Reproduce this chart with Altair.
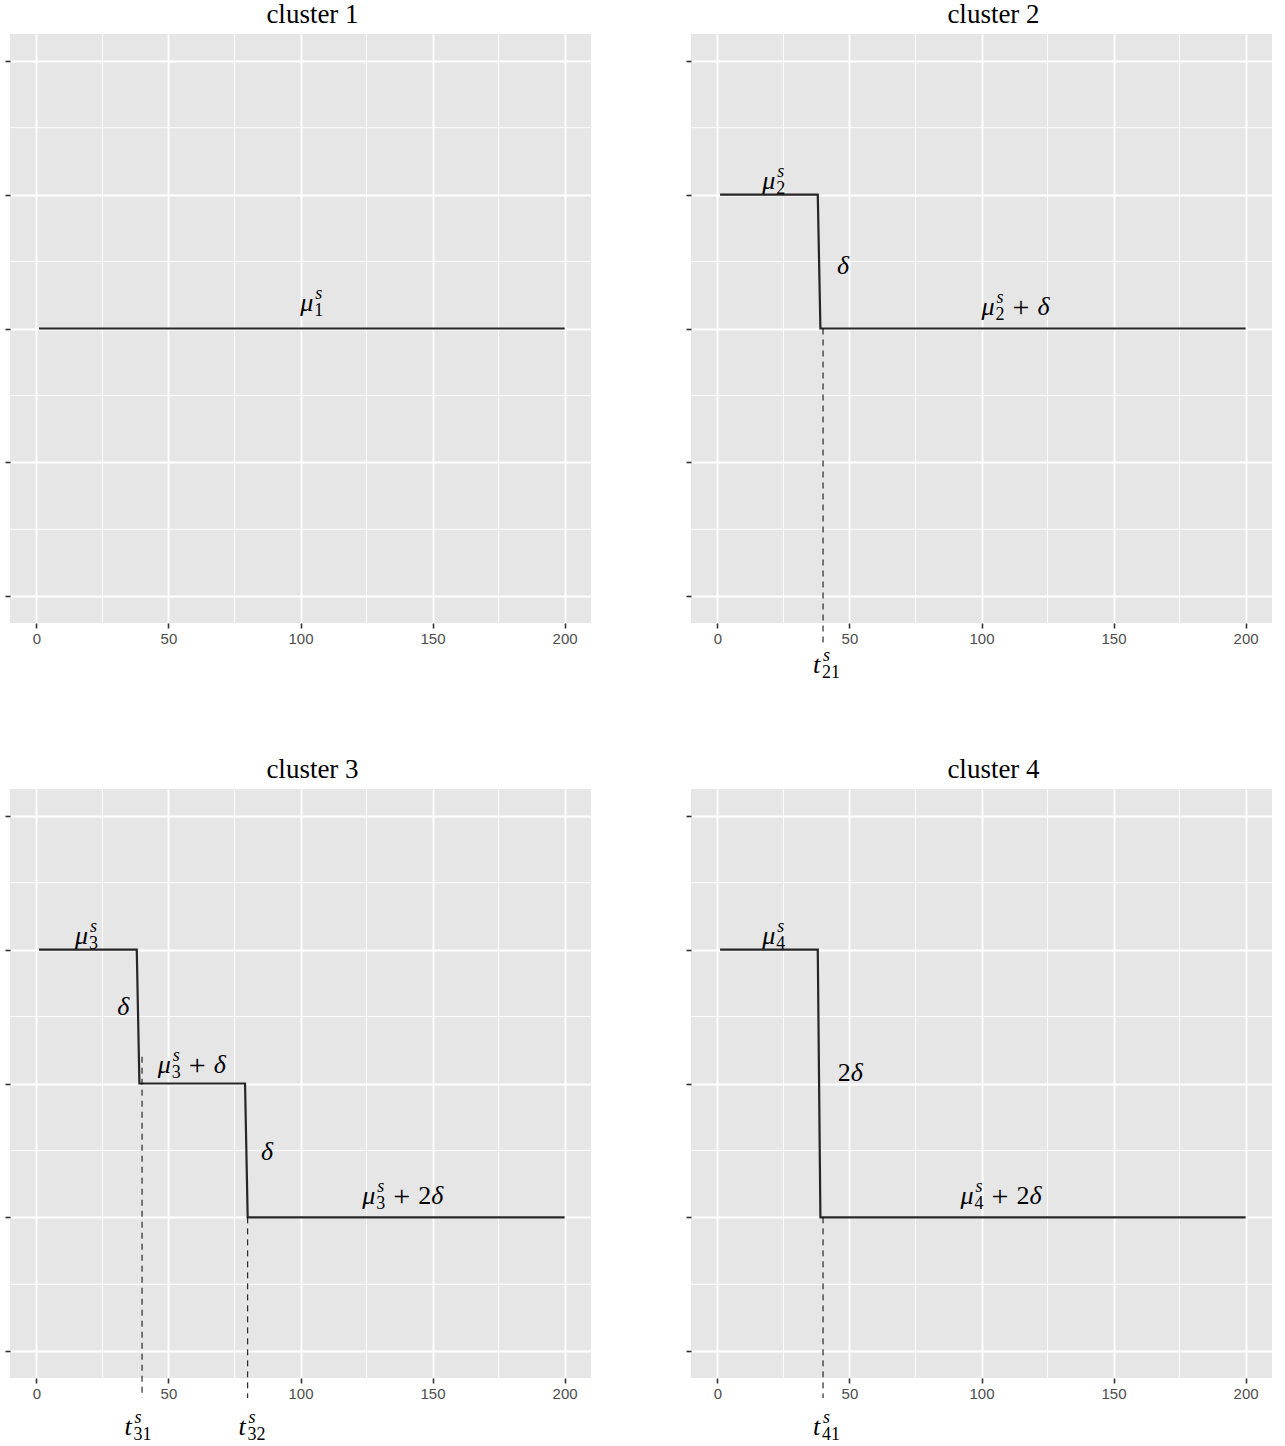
import altair as alt
import pandas as pd

# Piecewise-constant mean signals: vertices (time index, level) per cluster
cluster_names = ["cluster 1", "cluster 2", "cluster 3", "cluster 4"]
step_t = [
    [1, 200],
    [1, 38, 39, 200],
    [1, 38, 39, 79, 80, 200],
    [1, 38, 39, 200],
]
step_level = [
    [2, 2],
    [3, 3, 2, 2],
    [3, 3, 2, 2, 1, 1],
    [3, 3, 1, 1],
]

# Dashed guides at the change points: time and upper end of the guide
change_t = [[], [40], [40, 80], [40]]
change_top = [[], [2.0], [2.2, 1.0], [1.0]]
guide_bottom = -0.35

# Annotations: (markup, x centre, baseline level)
labels = [
    [("μ^s_1", 104.3, 2.13)],
    [("μ^s_2", 21.3, 3.04), ("δ", 47.6, 2.41), ("μ^s_2 + δ", 112.9, 2.10),
     ("t^s_21", 41.3, -0.575)],
    [("μ^s_3", 19.0, 3.04), ("δ", 32.9, 2.515), ("μ^s_3 + δ", 58.8, 2.075),
     ("δ", 87.3, 1.43), ("μ^s_3 + 2δ", 138.7, 1.10),
     ("t^s_31", 38.5, -0.627), ("t^s_32", 81.6, -0.627)],
    [("μ^s_4", 21.3, 3.04), ("2δ", 50.3, 2.015), ("μ^s_4 + 2δ", 107.4, 1.10),
     ("t^s_41", 41.3, -0.627)],
]

x_major = [0, 50, 100, 150, 200]
x_minor = [25, 75, 125, 175]
y_major = [0, 1, 2, 3, 4]
y_minor = [0.5, 1.5, 2.5, 3.5]
X_DOMAIN = [-10, 210]
Y_DOMAIN = [-0.2, 4.2]

PANEL_W = 581
PANEL_H = 589
SERIF = "Liberation Serif"
MAIN_SIZE = 26
SCRIPT_SIZE = 18
PLUS_SIZE = 30

# advance widths (px) for the math pieces
ADV = {"μ": 14, "t": 9, "δ": 12, "2": 13, "+": 17}
ITALIC = {"μ", "t", "δ", "s"}


def typeset(markup):
    """Split a small math string into pieces with pixel offsets."""
    pieces = []
    pos = 0
    i = 0
    while i < len(markup):
        c = markup[i]
        if c == " ":
            pos += 8
            i += 1
        elif c == "^":
            sup = markup[i + 1]
            j = markup.index("_", i)
            k = j + 1
            while k < len(markup) and markup[k].isdigit():
                k += 1
            sub = markup[j + 1:k]
            pieces.append((sup, True, SCRIPT_SIZE, pos + 1, -12))
            pieces.append((sub, False, SCRIPT_SIZE, pos, 5))
            pos += max(8, 9 * len(sub))
            i = k
        else:
            size = PLUS_SIZE if c == "+" else MAIN_SIZE
            pieces.append((c, c in ITALIC, size, pos, 0))
            pos += ADV.get(c, 13)
            i += 1
    half = pos / 2.0
    return [(t, it, size, ox - half, oy) for (t, it, size, ox, oy) in pieces]


def panel(k):
    xs = alt.Scale(domain=X_DOMAIN, nice=False, zero=False)
    ys = alt.Scale(domain=Y_DOMAIN, nice=False, zero=False)
    xa = alt.Axis(values=x_major, title=None, grid=True)
    ya = alt.Axis(values=y_major, title=None, labels=False, grid=True)

    vminor = alt.Chart(pd.DataFrame({"t": x_minor})).mark_rule(
        color="white", strokeWidth=0.9
    ).encode(x=alt.X("t:Q", scale=xs, axis=xa))
    hminor = alt.Chart(pd.DataFrame({"v": y_minor})).mark_rule(
        color="white", strokeWidth=0.9
    ).encode(y=alt.Y("v:Q", scale=ys, axis=ya))

    line = alt.Chart(pd.DataFrame({"t": step_t[k], "level": step_level[k]})).mark_line(
        color="#262626", strokeWidth=2.2
    ).encode(
        x=alt.X("t:Q", scale=xs, axis=xa),
        y=alt.Y("level:Q", scale=ys, axis=ya),
        order="t:Q",
    )
    layers = [vminor, hminor, line]

    if change_t[k]:
        guides = alt.Chart(pd.DataFrame({
            "t": change_t[k],
            "top": change_top[k],
            "bottom": [guide_bottom] * len(change_t[k]),
        })).mark_rule(color="black", strokeWidth=1, strokeDash=[6, 5], clip=False).encode(
            x=alt.X("t:Q", scale=xs, axis=xa),
            y=alt.Y("top:Q", scale=ys, axis=ya),
            y2="bottom:Q",
        )
        layers.append(guides)

    # each glyph of a label is its own text mark, shifted by dx/dy from the anchor
    for markup, lx, ly in labels[k]:
        for text, italic, size, ox, oy in typeset(markup):
            layers.append(
                alt.Chart(pd.DataFrame({"x": [lx], "y": [ly], "text": [text]})).mark_text(
                    font=SERIF, align="left", baseline="alphabetic", color="black",
                    fontSize=size, fontStyle="italic" if italic else "normal",
                    dx=ox, dy=oy + (2 if text == "+" else 0), clip=False,
                ).encode(
                    x=alt.X("x:Q", scale=xs, axis=xa),
                    y=alt.Y("y:Q", scale=ys, axis=ya),
                    text="text:N",
                )
            )

    return alt.layer(*layers).properties(
        width=PANEL_W,
        height=PANEL_H,
        title=alt.TitleParams(
            cluster_names[k], font=SERIF, fontSize=27, fontWeight="normal",
            color="black", anchor="middle", dx=12, offset=5,
        ),
    )


top = alt.hconcat(panel(0), panel(1), spacing=100, bounds="flush")
bottom = alt.hconcat(panel(2), panel(3), spacing=100, bounds="flush")
chart = alt.vconcat(top, bottom, spacing=72).properties(
    padding={"left": 4, "top": 0, "right": 5, "bottom": 5}
).configure_view(
    fill="#E6E6E6", stroke=None
).configure_axis(
    domain=False,
    gridColor="white",
    gridWidth=1.8,
    tickColor="#333333",
    tickSize=5,
    tickWidth=1.6,
    labelFont="Liberation Sans",
    labelFontSize=15,
    labelColor="#4D4D4D",
    labelPadding=3,
)

chart.save("out.html", embed_options={"renderer": "svg", "actions": False})
